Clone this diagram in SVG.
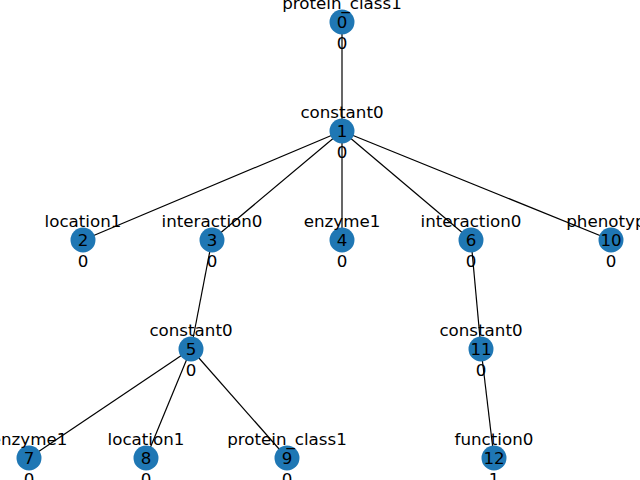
<svg xmlns="http://www.w3.org/2000/svg" width="640" height="480" viewBox="0 0 640 480">
<style>
.e{stroke:#000;stroke-width:1.2;fill:none}
.n circle{fill:#1f77b4}
text{font-family:"DejaVu Sans",sans-serif;font-size:16.7px;fill:#000;text-anchor:middle;dominant-baseline:central}
</style>
<rect width="640" height="480" fill="#fff"/>
<g id="edges">
<line class="e" x1="342" y1="22" x2="342" y2="131"/>
<line class="e" x1="342" y1="131" x2="83" y2="240"/>
<line class="e" x1="342" y1="131" x2="212" y2="240"/>
<line class="e" x1="342" y1="131" x2="342" y2="240"/>
<line class="e" x1="342" y1="131" x2="471" y2="240"/>
<line class="e" x1="342" y1="131" x2="611" y2="240"/>
<line class="e" x1="212" y1="240" x2="191" y2="349"/>
<line class="e" x1="471" y1="240" x2="481" y2="349"/>
<line class="e" x1="191" y1="349" x2="29" y2="458"/>
<line class="e" x1="191" y1="349" x2="146" y2="458"/>
<line class="e" x1="191" y1="349" x2="287" y2="458"/>
<line class="e" x1="481" y1="349" x2="494" y2="458"/>
</g>
<g id="node0" class="n"><circle cx="342" cy="22" r="12.5"/><text x="342" y="3">protein_class1</text><text x="342" y="22">0</text><text x="342" y="43">0</text></g>
<g id="node1" class="n"><circle cx="342" cy="131" r="12.5"/><text x="342" y="112">constant0</text><text x="342" y="131">1</text><text x="342" y="152">0</text></g>
<g id="node2" class="n"><circle cx="83" cy="240" r="12.5"/><text x="83" y="221">location1</text><text x="83" y="240">2</text><text x="83" y="261">0</text></g>
<g id="node3" class="n"><circle cx="212" cy="240" r="12.5"/><text x="212" y="221">interaction0</text><text x="212" y="240">3</text><text x="212" y="261">0</text></g>
<g id="node4" class="n"><circle cx="342" cy="240" r="12.5"/><text x="342" y="221">enzyme1</text><text x="342" y="240">4</text><text x="342" y="261">0</text></g>
<g id="node6" class="n"><circle cx="471" cy="240" r="12.5"/><text x="471" y="221">interaction0</text><text x="471" y="240">6</text><text x="471" y="261">0</text></g>
<g id="node10" class="n"><circle cx="611" cy="240" r="12.5"/><text x="611" y="221">phenotype</text><text x="611" y="240">10</text><text x="611" y="261">0</text></g>
<g id="node5" class="n"><circle cx="191" cy="349" r="12.5"/><text x="191" y="330">constant0</text><text x="191" y="349">5</text><text x="191" y="370">0</text></g>
<g id="node11" class="n"><circle cx="481" cy="349" r="12.5"/><text x="481" y="330">constant0</text><text x="481" y="349">11</text><text x="481" y="370">0</text></g>
<g id="node7" class="n"><circle cx="29" cy="458" r="12.5"/><text x="29" y="439">enzyme1</text><text x="29" y="458">7</text><text x="29" y="479">0</text></g>
<g id="node8" class="n"><circle cx="146" cy="458" r="12.5"/><text x="146" y="439">location1</text><text x="146" y="458">8</text><text x="146" y="479">0</text></g>
<g id="node9" class="n"><circle cx="287" cy="458" r="12.5"/><text x="287" y="439">protein_class1</text><text x="287" y="458">9</text><text x="287" y="479">0</text></g>
<g id="node12" class="n"><circle cx="494" cy="458" r="12.5"/><text x="494" y="439">function0</text><text x="494" y="458">12</text><text x="494" y="479">1</text></g>
</svg>
